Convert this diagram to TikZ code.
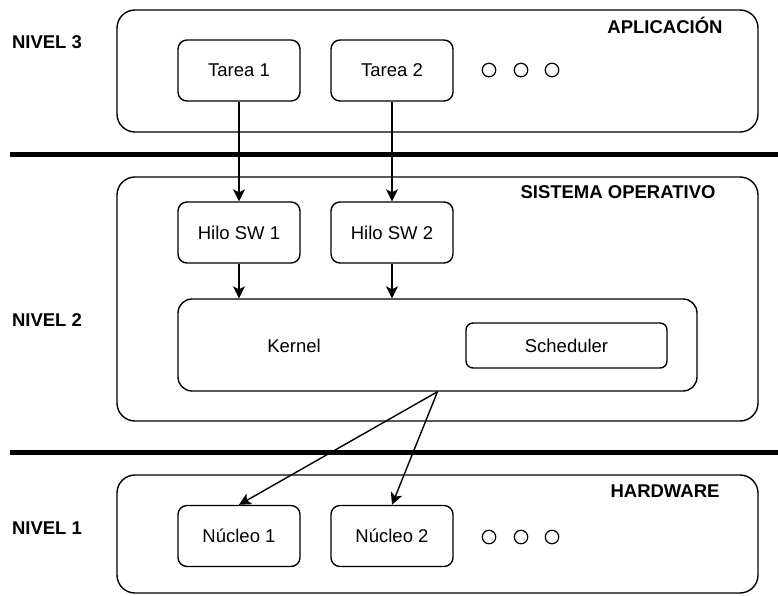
\documentclass[tikz,border=0pt]{standalone}
\usepackage{fontspec}
\setmainfont{Liberation Sans}
\usetikzlibrary{arrows.meta}

\begin{document}
\begin{tikzpicture}[x=1pt,y=-1pt,node distance=153pt,
	font=\fontsize{18.5}{22}\selectfont,line width=1.4pt,
	>={Stealth[length=12pt,width=12pt,inset=3pt]},
	level box/.style = {draw, rounded corners=18pt, minimum width=641pt, inner sep=0pt},
	main node/.style = {draw, rounded corners=9pt, minimum width=122pt, minimum height=61pt, inner sep=0pt},
	dot node/.style = {circle, draw, line width=1.2pt, minimum size=13.5pt, inner sep=0pt},
	title node/.style = {font=\fontsize{18.5}{22}\selectfont\bfseries, inner sep=0pt}]
	
	\useasboundingbox (0,0) rectangle (778,595);
	
	\node[level box,minimum height=122pt] (app) at (437.5,71) {};
	\node[level box,minimum height=244pt] (so) at (437.5,299) {};
	\node[level box,minimum height=118pt] (hw) at (437.5,534) {};
	
	\node[title node] (n3) at (47,42) {NIVEL 3};
	\node[title node] (n2) at (47,320) {NIVEL 2};
	\node[title node] (n1) at (47,528) {NIVEL 1};
	\node[title node] (tapp) at (665,25) {APLICACIÓN};
	\node[title node] (tso) at (618,192) {SISTEMA OPERATIVO};
	\node[title node] (thw) at (665,491) {HARDWARE};
	
	\draw[line width=5pt] (10,154) -- (778,154);
	\draw[line width=5pt] (10,452) -- (778,452);
	
	\node[main node] (t1) at (239,70.5) {Tarea 1};
	\node[main node] [right of = t1] (t2) {Tarea 2};
	\node[main node] (h1) at (239,232.5) {Hilo SW 1};
	\node[main node] [right of = h1] (h2) {Hilo SW 2};
	\node[main node] (c1) at (239,536) {Núcleo 1};
	\node[main node] [right of = c1] (c2) {Núcleo 2};
	
	\node[draw, rounded corners=14pt, minimum width=519pt, minimum height=92pt] (kernel) at (437.5,345) {};
	\node (tk) at (294,346) {Kernel};
	\node[draw, rounded corners=7pt, minimum width=201pt, minimum height=45pt] (sched) at (566.5,345.5) {Scheduler};
	
	\foreach \x/\i in {489/1,521/2,552/3} {
		\node[dot node] (da\i) at (\x,70) {};
		\node[dot node] (dc\i) at (\x,537) {};
	}
	
	\draw[->] (t1) -- (h1);
	\draw[->] (t2) -- (h2);
	\draw[->] (h1.south) -- (h1.south |- kernel.north);
	\draw[->] (h2.south) -- (h2.south |- kernel.north);
	\draw[->] (kernel.south) -- (c1.north);
	\draw[->] (kernel.south) -- (c2.north);
	
\end{tikzpicture}
\end{document}
